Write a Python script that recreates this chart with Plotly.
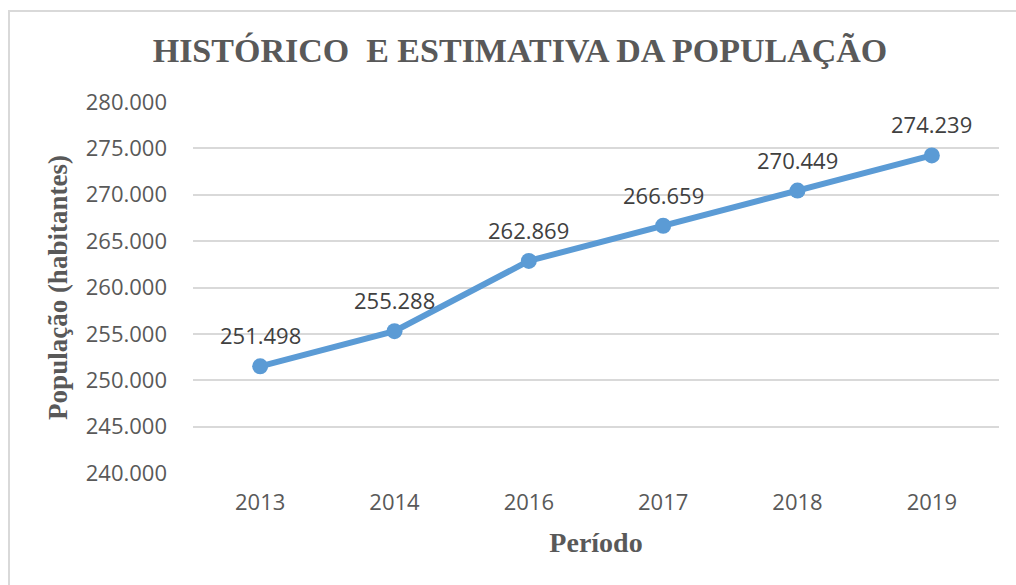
import plotly.graph_objects as go

anos = ["2013", "2014", "2016", "2017", "2018", "2019"]
populacao = [251498, 255288, 262869, 266659, 270449, 274239]
y_ticks = [240000, 245000, 250000, 255000, 260000, 265000, 270000, 275000, 280000]

cor_linha = "#5B9BD5"
fig = go.Figure()
fig.add_trace(go.Scatter(
    x=anos, y=populacao, mode="lines+markers",
    line=dict(color=cor_linha, width=6),
    marker=dict(color=cor_linha, size=16),
    hoverinfo="skip", showlegend=False,
))

for i, p in enumerate(populacao):
    fig.add_annotation(x=i, y=p, text=f"{p:,}".replace(",", "."), showarrow=False,
                       yshift=31, font=dict(family="Open Sans", size=22, color="#404040"))

fig.add_shape(type="rect", xref="paper", yref="paper",
              x0=-0.2283, x1=1.1, y0=-0.5, y1=1.245,
              line=dict(color="#D9D9D9", width=2), layer="below")

fig.update_layout(
    width=1016, height=585,
    margin=dict(l=193, r=17, t=102, b=112),
    paper_bgcolor="white", plot_bgcolor="white",
    separators=",.",
    title=dict(text="HISTÓRICO  E ESTIMATIVA DA POPULAÇÃO", x=520/1016, xanchor="center",
               y=1 - 50/585, yanchor="middle",
               font=dict(family="Liberation Serif", size=34, color="#595959", weight="bold")),
    xaxis=dict(type="category", range=[-0.5, 5.5], showgrid=False, zeroline=False, showline=False,
               ticks="", ticklabelstandoff=14,
               tickfont=dict(family="Open Sans", size=22, color="#595959"),
               title=dict(text="Período", standoff=17,
                          font=dict(family="Liberation Serif", size=28, color="#595959", weight="bold"))),
    yaxis=dict(range=[240000, 280000], tickvals=y_ticks, tickformat=",d",
               showgrid=True, gridcolor="#D9D9D9", gridwidth=1.5, zeroline=False, showline=False,
               ticks="", ticklabelstandoff=25,
               tickfont=dict(family="Open Sans", size=22, color="#595959"),
               title=dict(text="População (habitantes)", standoff=10,
                          font=dict(family="Liberation Serif", size=27, color="#595959", weight="bold"))),
)

fig.write_html("out.html")
